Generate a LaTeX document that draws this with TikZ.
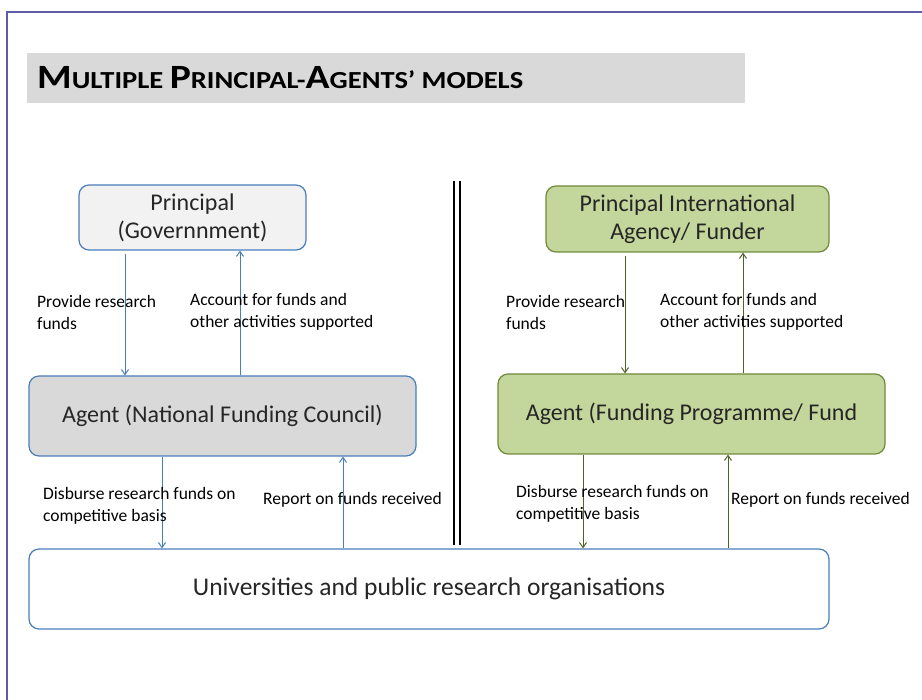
\documentclass[tikz,border=0pt]{standalone}
\usepackage{fontspec}
\setmainfont{Carlito}
\usetikzlibrary{arrows.meta}
\definecolor{frameblue}{HTML}{5B5EA6}
\definecolor{bl}{HTML}{4A7EBB}
\definecolor{gfill}{HTML}{C3D69B}
\definecolor{gline}{HTML}{4F6228}
\definecolor{gborder}{HTML}{6F8A3A}
\definecolor{lgray}{HTML}{F2F2F2}
\definecolor{mgray}{HTML}{D9D9D9}
\definecolor{txt}{HTML}{262626}
\begin{document}
\begin{tikzpicture}[x=1pt,y=-1pt,
  box/.style={rounded corners=10pt, line width=1.2pt, inner sep=0pt, align=center,
              text=txt, font=\fontsize{24}{28}\selectfont},
  bluebox/.style={box, draw=bl},
  greenbox/.style={box, draw=gborder, fill=gfill},
  lbl/.style={anchor=west, inner sep=0pt, align=left, text=black,
              font=\fontsize{17.5}{22}\selectfont},
  barr/.style={draw=bl, line width=1pt, -{Straight Barb[length=5pt,width=7pt]}},
  garr/.style={draw=gline, line width=1pt, -{Straight Barb[length=5pt,width=7pt]}}]
\useasboundingbox (0,0) rectangle (922,700);
% frame
\draw[frameblue, line width=1.5pt] (7,700) -- (7,12) -- (922,12);
% title
\node[fill=mgray, minimum width=718pt, minimum height=50pt, anchor=north west, inner sep=0pt] (tb) at (27,53) {};
\node[anchor=base west, inner sep=0pt, text=black] (tt) at (37,89)
  {\scalebox{1.165}[1]{\bfseries\fontsize{34}{36}\selectfont M\fontsize{24.5}{26}\selectfont ULTIPLE
   \fontsize{34}{36}\selectfont P\fontsize{24.5}{26}\selectfont RINCIPAL-\fontsize{34}{36}\selectfont A\fontsize{24.5}{26}\selectfont GENTS’ MODELS}};
% boxes
\node[bluebox, fill=lgray, minimum width=227pt, minimum height=65pt] (pl) at (192.5,217.5) {Principal\\(Governnment)};
\node[bluebox, fill=mgray, minimum width=387pt, minimum height=80pt] (al) at (222.5,416) {Agent (National Funding Council)};
\node[greenbox, minimum width=283pt, minimum height=66pt] (pr) at (687.5,219) {Principal International\\Agency/ Funder};
\node[greenbox, minimum width=387pt, minimum height=80pt] (ar) at (691.5,414) {Agent (Funding Programme/ Fund};
\node[bluebox, fill=white, minimum width=800pt, minimum height=80pt, font=\fontsize{25.5}{28}\selectfont] (un) at (429,589) {Universities and public research organisations};
% separator
\coordinate (s1t) at (454,181); \coordinate (s1b) at (454,545);
\coordinate (s2t) at (460,181); \coordinate (s2b) at (460,545);
\draw[line width=1.3pt] (s1t) -- (s1b);
\draw[line width=1.3pt] (s2t) -- (s2b);
% x positions
\coordinate (xa) at (125,0); \coordinate (xb) at (240,0);
\coordinate (xc) at (162,0); \coordinate (xd) at (343,0);
\coordinate (xe) at (625,0); \coordinate (xf) at (743,0);
\coordinate (xg) at (583,0); \coordinate (xh) at (728,0);
% left arrows
\draw[barr, shorten <=3pt] (pl.south -| xa) -- (al.north -| xa);
\draw[barr] (al.north -| xb) -- (pl.south -| xb);
\draw[barr] (al.south -| xc) -- (un.north -| xc);
\draw[barr] (un.north -| xd) -- (al.south -| xd);
% right arrows
\draw[garr, shorten <=3pt] (pr.south -| xe) -- (ar.north -| xe);
\draw[garr] (ar.north -| xf) -- (pr.south -| xf);
\draw[garr] (ar.south -| xg) -- (un.north -| xg);
\draw[garr] (un.north -| xh) -- (ar.south -| xh);
% labels
\node[lbl] (l1) at (37,312) {Provide research\\funds};
\node[lbl] (l2) at (190,312) {Account for funds and\\other activities  supported};
\node[lbl] (l3) at (43,506) {Disburse research  funds on\\competitive  basis};
\node[lbl] (l4) at (263,500) {Report on funds received};
\node[lbl] (r1) at (506,312) {Provide research\\funds};
\node[lbl] (r2) at (660,312) {Account for funds and\\other activities  supported};
\node[lbl] (r3) at (516,504) {Disburse research  funds on\\competitive  basis};
\node[lbl] (r4) at (731,500) {Report on funds received};
\end{tikzpicture}
\end{document}
